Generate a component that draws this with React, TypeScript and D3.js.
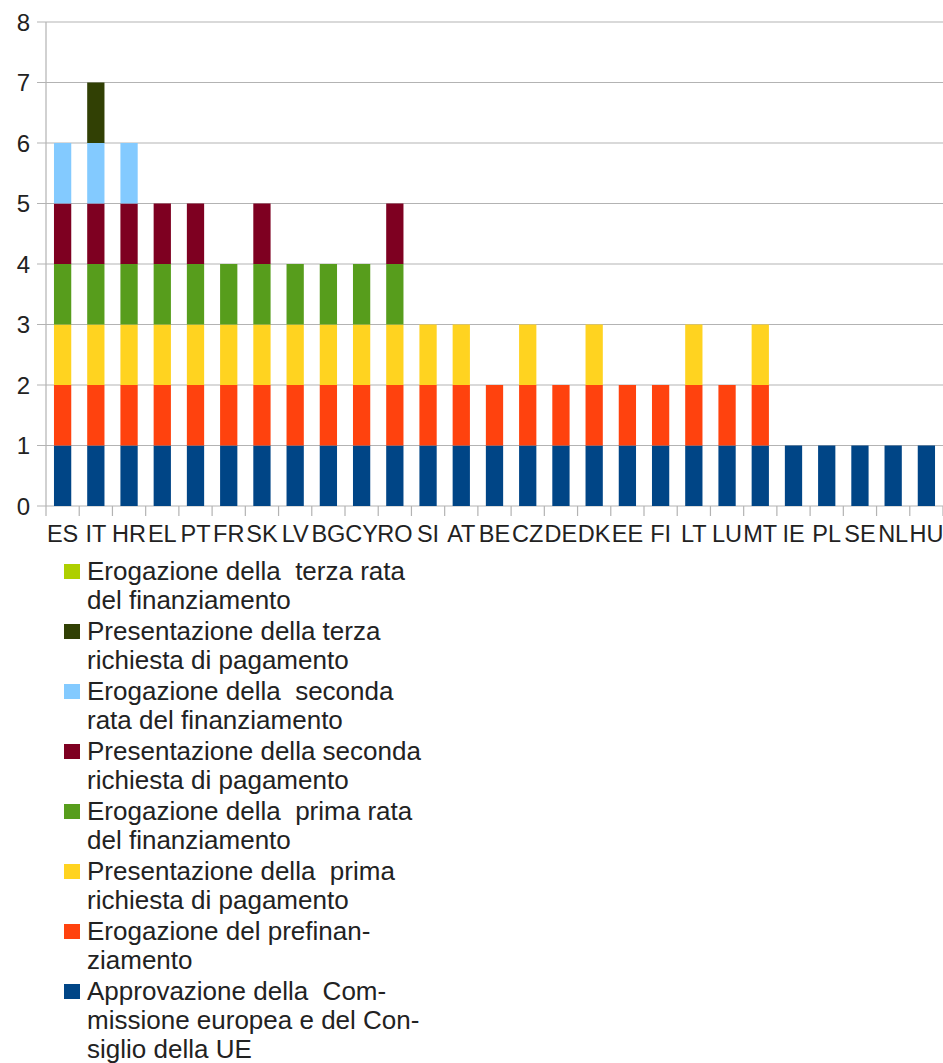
import { useEffect, useRef } from "react";
import * as d3 from "d3";

const countries = ["ES", "IT", "HR", "EL", "PT", "FR", "SK", "LV", "BG", "CY", "RO", "SI", "AT", "BE", "CZ", "DE", "DK", "EE", "FI", "LT", "LU", "MT", "IE", "PL", "SE", "NL", "HU"];

// stacked from bottom to top
const approvazione = [1, 1, 1, 1, 1, 1, 1, 1, 1, 1, 1, 1, 1, 1, 1, 1, 1, 1, 1, 1, 1, 1, 1, 1, 1, 1, 1];
const prefinanziamento = [1, 1, 1, 1, 1, 1, 1, 1, 1, 1, 1, 1, 1, 1, 1, 1, 1, 1, 1, 1, 1, 1, 0, 0, 0, 0, 0];
const primaRichiesta = [1, 1, 1, 1, 1, 1, 1, 1, 1, 1, 1, 1, 1, 0, 1, 0, 1, 0, 0, 1, 0, 1, 0, 0, 0, 0, 0];
const primaRata = [1, 1, 1, 1, 1, 1, 1, 1, 1, 1, 1, 0, 0, 0, 0, 0, 0, 0, 0, 0, 0, 0, 0, 0, 0, 0, 0];
const secondaRichiesta = [1, 1, 1, 1, 1, 0, 1, 0, 0, 0, 1, 0, 0, 0, 0, 0, 0, 0, 0, 0, 0, 0, 0, 0, 0, 0, 0];
const secondaRata = [1, 1, 1, 0, 0, 0, 0, 0, 0, 0, 0, 0, 0, 0, 0, 0, 0, 0, 0, 0, 0, 0, 0, 0, 0, 0, 0];
const terzaRichiesta = [0, 1, 0, 0, 0, 0, 0, 0, 0, 0, 0, 0, 0, 0, 0, 0, 0, 0, 0, 0, 0, 0, 0, 0, 0, 0, 0];
const terzaRata = [0, 0, 0, 0, 0, 0, 0, 0, 0, 0, 0, 0, 0, 0, 0, 0, 0, 0, 0, 0, 0, 0, 0, 0, 0, 0, 0];

const yTicks = [0, 1, 2, 3, 4, 5, 6, 7, 8];

const series = [
  { key: "approvazione", values: approvazione, color: "#004586", label: ["Approvazione della  Com-", "missione europea e del Con-", "siglio della UE"] },
  { key: "prefinanziamento", values: prefinanziamento, color: "#ff420e", label: ["Erogazione del prefinan-", "ziamento"] },
  { key: "primaRichiesta", values: primaRichiesta, color: "#ffd320", label: ["Presentazione della  prima", "richiesta di pagamento"] },
  { key: "primaRata", values: primaRata, color: "#579d1c", label: ["Erogazione della  prima rata", "del finanziamento"] },
  { key: "secondaRichiesta", values: secondaRichiesta, color: "#7e0021", label: ["Presentazione della seconda", "richiesta di pagamento"] },
  { key: "secondaRata", values: secondaRata, color: "#83caff", label: ["Erogazione della  seconda", "rata del finanziamento"] },
  { key: "terzaRichiesta", values: terzaRichiesta, color: "#314004", label: ["Presentazione della terza", "richiesta di pagamento"] },
  { key: "terzaRata", values: terzaRata, color: "#aecf00", label: ["Erogazione della  terza rata", "del finanziamento"] },
];

export default function App() {
  const svgRef = useRef<SVGSVGElement | null>(null);

  useEffect(() => {
    if (!svgRef.current) return;

    const width = 943;
    const height = 1063;
    const margin = { top: 22, right: 0, bottom: 557, left: 46 };
    const w = width - margin.left - margin.right;
    const h = height - margin.top - margin.bottom;
    const font = "'Liberation Sans', Arial, sans-serif";
    const textColor = "#222";
    const gridColor = "#b3b3b3";

    const svg = d3.select(svgRef.current);
    svg.selectAll("*").remove();
    svg.attr("width", width).attr("height", height);

    const g = svg.append("g").attr("transform", `translate(${margin.left},${margin.top})`);

    const x = d3.scaleBand<string>().domain(countries).range([0, w]).paddingInner(0.48).paddingOuter(0.24);
    const y = d3.scaleLinear().domain([0, 8]).range([h, 0]);
    const step = w / countries.length;

    // gridlines and y ticks
    g.selectAll("line.grid")
      .data(yTicks)
      .join("line")
      .attr("x1", -9)
      .attr("x2", w)
      .attr("y1", d => y(d))
      .attr("y2", d => y(d))
      .attr("stroke", gridColor)
      .attr("stroke-width", 1.2);

    g.selectAll("text.ytick")
      .data(yTicks)
      .join("text")
      .attr("x", -16)
      .attr("y", d => y(d))
      .attr("dy", "0.36em")
      .attr("text-anchor", "end")
      .attr("font-family", font)
      .attr("font-size", 24)
      .attr("fill", textColor)
      .text(d => d);

    // stacked bars
    const table = countries.map((c, i) => {
      const row: Record<string, number | string> = { country: c };
      series.forEach(s => (row[s.key] = s.values[i]));
      return row;
    });
    const stack = d3.stack<Record<string, number | string>>().keys(series.map(s => s.key));
    const layers = stack(table as any);

    layers.forEach((layer, li) => {
      g.append("g")
        .attr("fill", series[li].color)
        .selectAll("rect")
        .data(layer)
        .join("rect")
        .attr("x", d => x(d.data.country as string)!)
        .attr("width", x.bandwidth())
        .attr("y", d => y(d[1]))
        .attr("height", d => y(d[0]) - y(d[1]));
    });

    // axes
    g.append("line")
      .attr("x1", 0).attr("x2", 0)
      .attr("y1", 0).attr("y2", h)
      .attr("stroke", gridColor)
      .attr("stroke-width", 1.2);

    g.selectAll("line.xtick")
      .data(d3.range(countries.length + 1))
      .join("line")
      .attr("x1", i => i * step)
      .attr("x2", i => i * step)
      .attr("y1", h)
      .attr("y2", h + 10)
      .attr("stroke", gridColor)
      .attr("stroke-width", 1.2);

    g.selectAll("text.xtick")
      .data(countries)
      .join("text")
      .attr("x", d => x(d)! + x.bandwidth() / 2)
      .attr("y", h + 36)
      .attr("text-anchor", "middle")
      .attr("font-family", font)
      .attr("font-size", 23.5)
      .attr("fill", textColor)
      .text(d => d);

    // legend, top entry is the last series
    const legend = svg.append("g").attr("transform", "translate(64,580)");
    const legendItems = series.slice().reverse();
    legendItems.forEach((s, i) => {
      const item = legend.append("g").attr("transform", `translate(0,${i * 60})`);
      item.append("rect")
        .attr("x", 0)
        .attr("y", -16)
        .attr("width", 16)
        .attr("height", 15)
        .attr("fill", s.color);
      item.selectAll("text")
        .data(s.label)
        .join("text")
        .attr("x", 23)
        .attr("y", (_, j) => j * 29)
        .attr("font-family", font)
        .attr("font-size", 26)
        .attr("fill", textColor)
        .style("white-space", "pre")
        .text(d => d);
    });
  }, []);

  return <svg ref={svgRef} style={{ position: "absolute", left: 0, top: 0 }} />;
}
